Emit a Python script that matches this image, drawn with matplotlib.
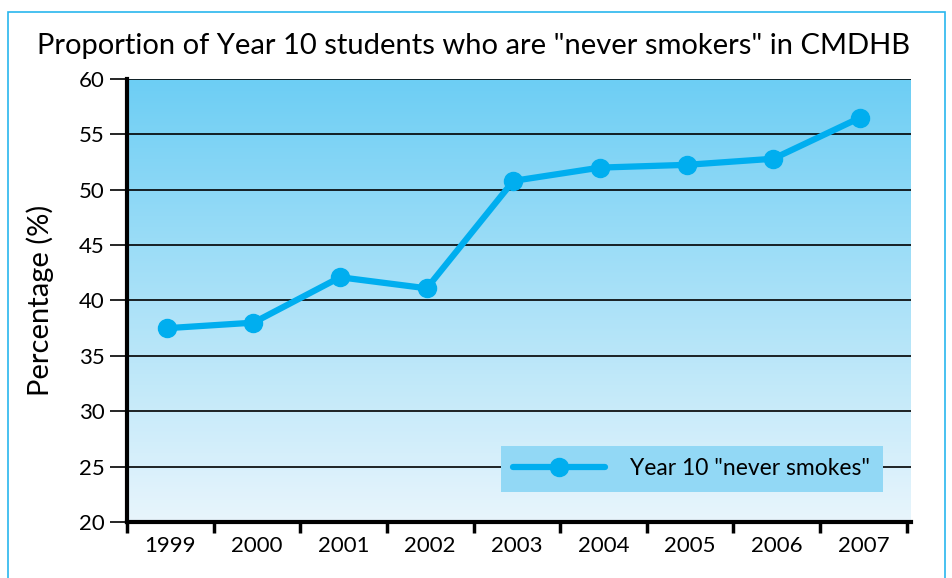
import numpy as np
import matplotlib
matplotlib.use("Agg")
import matplotlib.pyplot as plt
from matplotlib.colors import LinearSegmentedColormap
from matplotlib.patches import Rectangle

# ---------------------------------
# DATA
# ---------------------------------

years = ["1999", "2000", "2001", "2002", "2003", "2004", "2005", "2006", "2007"]
never_smokers = [37.5, 38.0, 42.1, 41.1, 50.8, 52.0, 52.25, 52.8, 56.5]
y_ticks = [20, 25, 30, 35, 40, 45, 50, 55, 60]

TITLE = 'Proportion of Year 10 students who are "never smokers" in CMDHB'
SERIES = 'Year 10 "never smokes"'
LINE_COLOR = "#00AEEF"

plt.rcParams["font.family"] = ["Lato", "DejaVu Sans"]

fig = plt.figure(figsize=(9.52, 5.78), dpi=100)

# light blue outer border
fig.patches.append(Rectangle((8 / 952, -0.05), 937 / 952, 1.05 - 12 / 578,
                             transform=fig.transFigure, fill=False,
                             edgecolor="#29B6EE", linewidth=1.2))

ax = fig.add_axes([127 / 952, 56 / 578, 784 / 952, 443 / 578])

# gradient background
cmap = LinearSegmentedColormap.from_list("bg", ["#E8F5FC", "#6DCEF4"])
grad = np.linspace(0, 1, 256).reshape(-1, 1)
ax.imshow(grad, cmap=cmap, aspect="auto", origin="lower",
          extent=[-0.5, 8.55, 20, 60], zorder=0)

x = np.arange(len(years)) - 0.04
ax.plot(x, never_smokers, color=LINE_COLOR, linewidth=4.5, marker="o",
        markersize=13, label=SERIES, zorder=3, solid_capstyle="round")

ax.set_xlim(-0.5, 8.55)
ax.set_ylim(20, 60)
ax.set_yticks(y_ticks)
ax.set_xticks(np.arange(-0.5, 9, 1))
ax.set_xticklabels([])
ax.set_xticks(np.arange(len(years)), minor=True)
ax.set_xticklabels(years, minor=True)
ax.tick_params(axis="x", which="minor", length=0, pad=10, labelsize=16)
ax.tick_params(axis="x", which="major", direction="out", length=8, width=2.5)
ax.tick_params(axis="y", direction="out", length=12, width=1.2, labelsize=16, pad=4)

for yv in y_ticks:
    ax.axhline(yv, color="black", linewidth=1.2, zorder=1)

for s in ["top", "right"]:
    ax.spines[s].set_visible(False)
ax.spines["left"].set_linewidth(3)
ax.spines["bottom"].set_linewidth(3)

ax.set_ylabel("Percentage (%)", fontsize=21, labelpad=18)
fig.text(0.497, 0.92, TITLE, ha="center", va="center", fontsize=21)

leg = ax.legend(loc="lower right", bbox_to_anchor=(0.964, 0.068), fontsize=16.5,
                frameon=True, fancybox=False, handlelength=4.0,
                borderpad=0.55, handletextpad=1.1, borderaxespad=0)
leg.get_frame().set_facecolor("#92D8F5")
leg.get_frame().set_edgecolor("none")
leg.get_frame().set_alpha(1)

fig.savefig("out.png", dpi=100)
